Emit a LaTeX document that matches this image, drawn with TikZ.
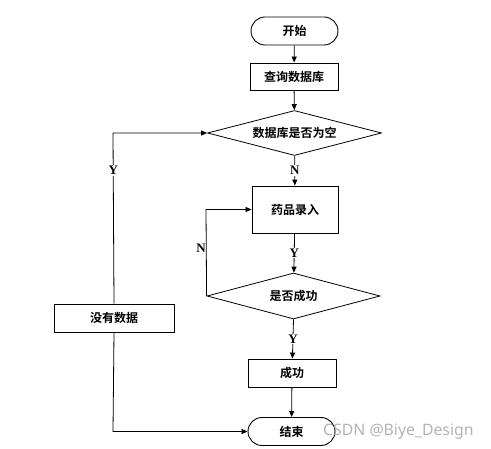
\documentclass[tikz,border=0pt]{standalone}
\usepackage{fontspec}
\setmainfont{Liberation Serif}
\newfontfamily\cjk{Noto Sans CJK SC}[BoldFont={Noto Sans CJK SC Bold}]
\newfontfamily\wm{Noto Sans}
\usetikzlibrary{shapes.geometric,arrows.meta}
\begin{document}
\begin{tikzpicture}[x=1pt,y=-1pt,
  every node/.style={font=\cjk\bfseries\fontsize{12}{14}\selectfont},
  term/.style={draw,line width=0.9pt,rounded corners=14pt,minimum width=87pt,minimum height=28pt,inner sep=0pt},
  proc/.style={draw,line width=0.9pt,minimum width=88pt,minimum height=27pt,inner sep=0pt},
  dec/.style={draw,line width=0.8pt,diamond,aspect=3.9,minimum width=174pt,minimum height=45pt,inner sep=0pt},
  lbl/.style={font=\bfseries\fontsize{13}{15}\selectfont},
  arr/.style={line width=0.8pt,-{Triangle[length=6pt,width=5pt]}},
  ln/.style={line width=0.8pt}]
\useasboundingbox (0,0) rectangle (491,449);
\node[term] (start) at (294.5,31) {开始};
\node[proc] (query) at (294,76.5) {查询数据库};
\node[dec] (empty) at (294.5,133) {数据库是否为空};
\node[proc,minimum width=86pt,minimum height=47pt] (input) at (295,209.5) {药品录入};
\node[dec,minimum width=173pt,minimum height=46pt] (ok) at (293.5,296) {是否成功};
\node[proc,minimum width=120pt,minimum height=28pt] (nodata) at (114,318) {没有数据};
\node[proc,minimum height=28pt] (succ) at (292,373) {成功};
\node[term] (end) at (291.5,431.5) {结束};
\coordinate (c1) at (113,133);
\coordinate (c2) at (206,209.5);
\coordinate (c3) at (113,431.5);
\draw[arr] (start) -- (query);
\draw[arr] (query) -- (empty);
\draw[arr] (empty) -- node[lbl,fill=white,inner sep=1pt]{N} (input);
\draw[arr] (input) -- node[lbl,fill=white,inner sep=1pt]{Y} (ok);
\draw[arr] (ok.south) -- node[lbl,fill=white,inner sep=1pt]{Y} (succ);
\draw[arr] (succ) -- (end);
\draw[arr] (ok.west) -- (c2) -- (input.west);
\node[lbl] at (201,248) {N};
\draw[arr] (nodata.north) -- node[lbl,fill=white,inner sep=1pt,pos=0.78]{Y} (c1) -- (empty.west);
\draw[arr] (nodata.south) -- (c3) -- (end.west);
\node[font=\wm\fontsize{15.8}{18}\selectfont,text=black!35,opacity=0.85,anchor=west,inner sep=0pt] (wmk) at (323,431.5) {CSDN @Biye\_Design};
\end{tikzpicture}
\end{document}
